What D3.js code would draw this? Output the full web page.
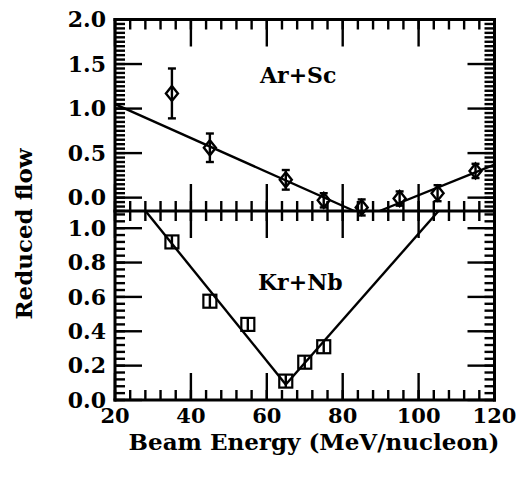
<!DOCTYPE html>
<html>
<head>
<meta charset="utf-8">
<script src="https://cdn.jsdelivr.net/npm/d3@7"></script>
<style>
  body { margin: 0; background: #fff; }
  text { font-family: "DejaVu Serif", "Liberation Serif", serif; font-weight: bold; fill: #000; }
</style>
</head>
<body>
<svg id="chart" width="520" height="478"></svg>
<script>
// Beam energy axis (MeV/nucleon)
const energyTicks = [20, 40, 60, 80, 100, 120];
const energyMinorStep = 4;

// Reduced-flow tick labels for each panel
const arScTicks = [0.0, 0.5, 1.0, 1.5, 2.0];
const arScMinorStep = 0.05;
const krNbTicks = [0.0, 0.2, 0.4, 0.6, 0.8, 1.0];
const krNbMinorStep = 0.04;

// Ar+Sc measurements (diamonds with error bars)
const arScEnergy = [35, 45, 65, 75, 85, 95, 105, 115];
const arScFlow   = [1.17, 0.56, 0.20, -0.03, -0.11, -0.01, 0.05, 0.30];
const arScError  = [0.28, 0.16, 0.11, 0.08, 0.09, 0.08, 0.09, 0.08];

// Ar+Sc V-shaped fit (vertex lies below the panel)
const arScFitEnergy = [20, 86.2, 120];
const arScFitFlow   = [1.05, -0.21, 0.37];

// Kr+Nb measurements (squares with error bars)
const krNbEnergy = [35, 45, 55, 65, 70, 75];
const krNbFlow   = [0.92, 0.575, 0.44, 0.11, 0.22, 0.31];
const krNbError  = [0.035, 0.035, 0.035, 0.035, 0.035, 0.035];

// Kr+Nb V-shaped fit
const krNbFitEnergy = [20, 65, 120];
const krNbFitFlow   = [1.32, 0.09, 1.47];

const svg = d3.select("#chart");

const frameLeft = 115, frameRight = 494.5, frameTop = 19.5, frameMid = 211, frameBottom = 400;

const x = d3.scaleLinear().domain([20, 120]).range([frameLeft, frameRight]);
const yTop = d3.scaleLinear().domain([-0.15, 2.0]).range([frameMid, frameTop]);
const yBot = d3.scaleLinear().domain([0, 1.1]).range([frameBottom, frameMid]);

const MAJOR = 27, MINOR = 10, TICK_W = 2.4;

function stepValues(domain, step) {
  const lo = Math.ceil(domain[0] / step - 1e-9), hi = Math.floor(domain[1] / step + 1e-9);
  return d3.range(lo, hi + 1).map(i => Math.round(i * step * 1000) / 1000);
}

// ---- Tick marks on every edge ----
const tickLayer = svg.append("g").attr("stroke", "#000").attr("stroke-width", TICK_W);

function xTicks(values, y0, dir, len) {
  tickLayer.append("g").selectAll("line").data(values).join("line")
    .attr("x1", d => x(d)).attr("x2", d => x(d))
    .attr("y1", y0).attr("y2", y0 + dir * len);
}
function yTicks(scale, values, x0, dir, len) {
  tickLayer.append("g").selectAll("line").data(values).join("line")
    .attr("x1", x0).attr("x2", x0 + dir * len)
    .attr("y1", d => scale(d)).attr("y2", d => scale(d));
}

const xMinor = stepValues(x.domain(), energyMinorStep);
[[frameTop, 1], [frameMid, -1], [frameMid, 1], [frameBottom, -1]].forEach(function (edge) {
  xTicks(xMinor, edge[0], edge[1], MINOR);
  xTicks(energyTicks, edge[0], edge[1], MAJOR);
});
[[yTop, arScTicks, arScMinorStep], [yBot, krNbTicks, krNbMinorStep]].forEach(function (p) {
  const minors = stepValues(p[0].domain(), p[2]);
  yTicks(p[0], minors, frameLeft, 1, MINOR);
  yTicks(p[0], p[1], frameLeft, 1, MAJOR);
  yTicks(p[0], minors, frameRight, -1, MINOR);
  yTicks(p[0], p[1], frameRight, -1, MAJOR);
});

// ---- Frame and divider ----
svg.append("g").attr("stroke", "#000").attr("stroke-width", 3)
  .selectAll("line")
  .data([
    [frameLeft, frameTop, frameRight, frameTop],
    [frameRight, frameTop, frameRight, frameBottom],
    [frameRight, frameBottom, frameLeft, frameBottom],
    [frameLeft, frameBottom, frameLeft, frameTop],
    [frameLeft, frameMid, frameRight, frameMid]
  ])
  .join("line")
  .attr("x1", d => d[0]).attr("y1", d => d[1])
  .attr("x2", d => d[2]).attr("y2", d => d[3])
  .attr("stroke-linecap", "square");

// ---- Tick labels ----
const fmt = d3.format(".1f");
[[yTop, arScTicks], [yBot, krNbTicks]].forEach(function (p) {
  svg.append("g").selectAll("text").data(p[1]).join("text")
    .attr("x", frameLeft - 9).attr("y", d => p[0](d)).attr("dy", "0.35em")
    .attr("text-anchor", "end").attr("font-size", 22)
    .text(fmt);
});
svg.append("g").selectAll("text").data(energyTicks).join("text")
  .attr("x", d => x(d)).attr("y", frameBottom + 23)
  .attr("text-anchor", "middle").attr("font-size", 21)
  .text(d => String(d));

// ---- Fits, trimmed to the panel's flow range ----
function trimToRange(pts, lo, hi) {
  const out = [];
  for (let i = 0; i < pts.length - 1; i++) {
    let [e0, v0] = pts[i], [e1, v1] = pts[i + 1];
    const at = v => e0 + (e1 - e0) * (v - v0) / (v1 - v0);
    if (v0 < lo && v1 < lo) continue;
    if (v0 < lo) { e0 = at(lo); v0 = lo; } else if (v0 > hi) { e0 = at(hi); v0 = hi; }
    if (v1 < lo) { e1 = at(lo); v1 = lo; } else if (v1 > hi) { e1 = at(hi); v1 = hi; }
    out.push([[e0, v0], [e1, v1]]);
  }
  return out;
}
function drawFit(es, vs, ys) {
  const pts = es.map((e, i) => [e, vs[i]]);
  const [lo, hi] = ys.domain();
  svg.append("g").selectAll("path").data(trimToRange(pts, lo, hi)).join("path")
    .attr("d", d3.line().x(d => x(d[0])).y(d => ys(d[1])))
    .attr("fill", "none").attr("stroke", "#000").attr("stroke-width", 2.4);
}
drawFit(arScFitEnergy, arScFitFlow, yTop);
drawFit(krNbFitEnergy, krNbFitFlow, yBot);

// ---- Measurements ----
function drawPoints(es, vs, errs, ys, shape) {
  const data = es.map((e, i) => ({ e, v: vs[i], err: errs[i] }));
  const g = svg.append("g").attr("stroke", "#000").attr("fill", "none");
  const pt = g.selectAll("g").data(data).join("g")
    .attr("transform", d => `translate(${x(d.e)},0)`);
  pt.append("line").attr("x1", 0).attr("x2", 0)
    .attr("y1", d => ys(d.v - d.err)).attr("y2", d => ys(d.v + d.err))
    .attr("stroke-width", 2.4);
  if (shape === "diamond") {
    pt.append("line").attr("x1", -4).attr("x2", 4)
      .attr("y1", d => ys(d.v + d.err)).attr("y2", d => ys(d.v + d.err)).attr("stroke-width", 2.4);
    pt.append("line").attr("x1", -4).attr("x2", 4)
      .attr("y1", d => ys(d.v - d.err)).attr("y2", d => ys(d.v - d.err)).attr("stroke-width", 2.4);
    pt.append("path")
      .attr("d", d => { const cy = ys(d.v); return `M0,${cy - 7.5}L6,${cy}L0,${cy + 7.5}L-6,${cy}Z`; })
      .attr("stroke-width", 2.4);
  } else {
    pt.append("rect").attr("x", -6.5).attr("width", 13)
      .attr("y", d => ys(d.v) - 6.5).attr("height", 13)
      .attr("stroke-width", 2.2);
  }
}
drawPoints(arScEnergy, arScFlow, arScError, yTop, "diamond");
drawPoints(krNbEnergy, krNbFlow, krNbError, yBot, "square");

// ---- Panel labels and axis titles ----
svg.append("text").attr("x", 260).attr("y", 83).attr("font-size", 22).text("Ar+Sc");
svg.append("text").attr("x", 258).attr("y", 290).attr("font-size", 22).text("Kr+Nb");
svg.append("text").attr("x", 314).attr("y", 450).attr("text-anchor", "middle")
  .attr("font-size", 23).text("Beam Energy (MeV/nucleon)");
svg.append("text").attr("transform", "translate(32,234) rotate(-90)")
  .attr("text-anchor", "middle").attr("font-size", 23).text("Reduced flow");
</script>
</body>
</html>
